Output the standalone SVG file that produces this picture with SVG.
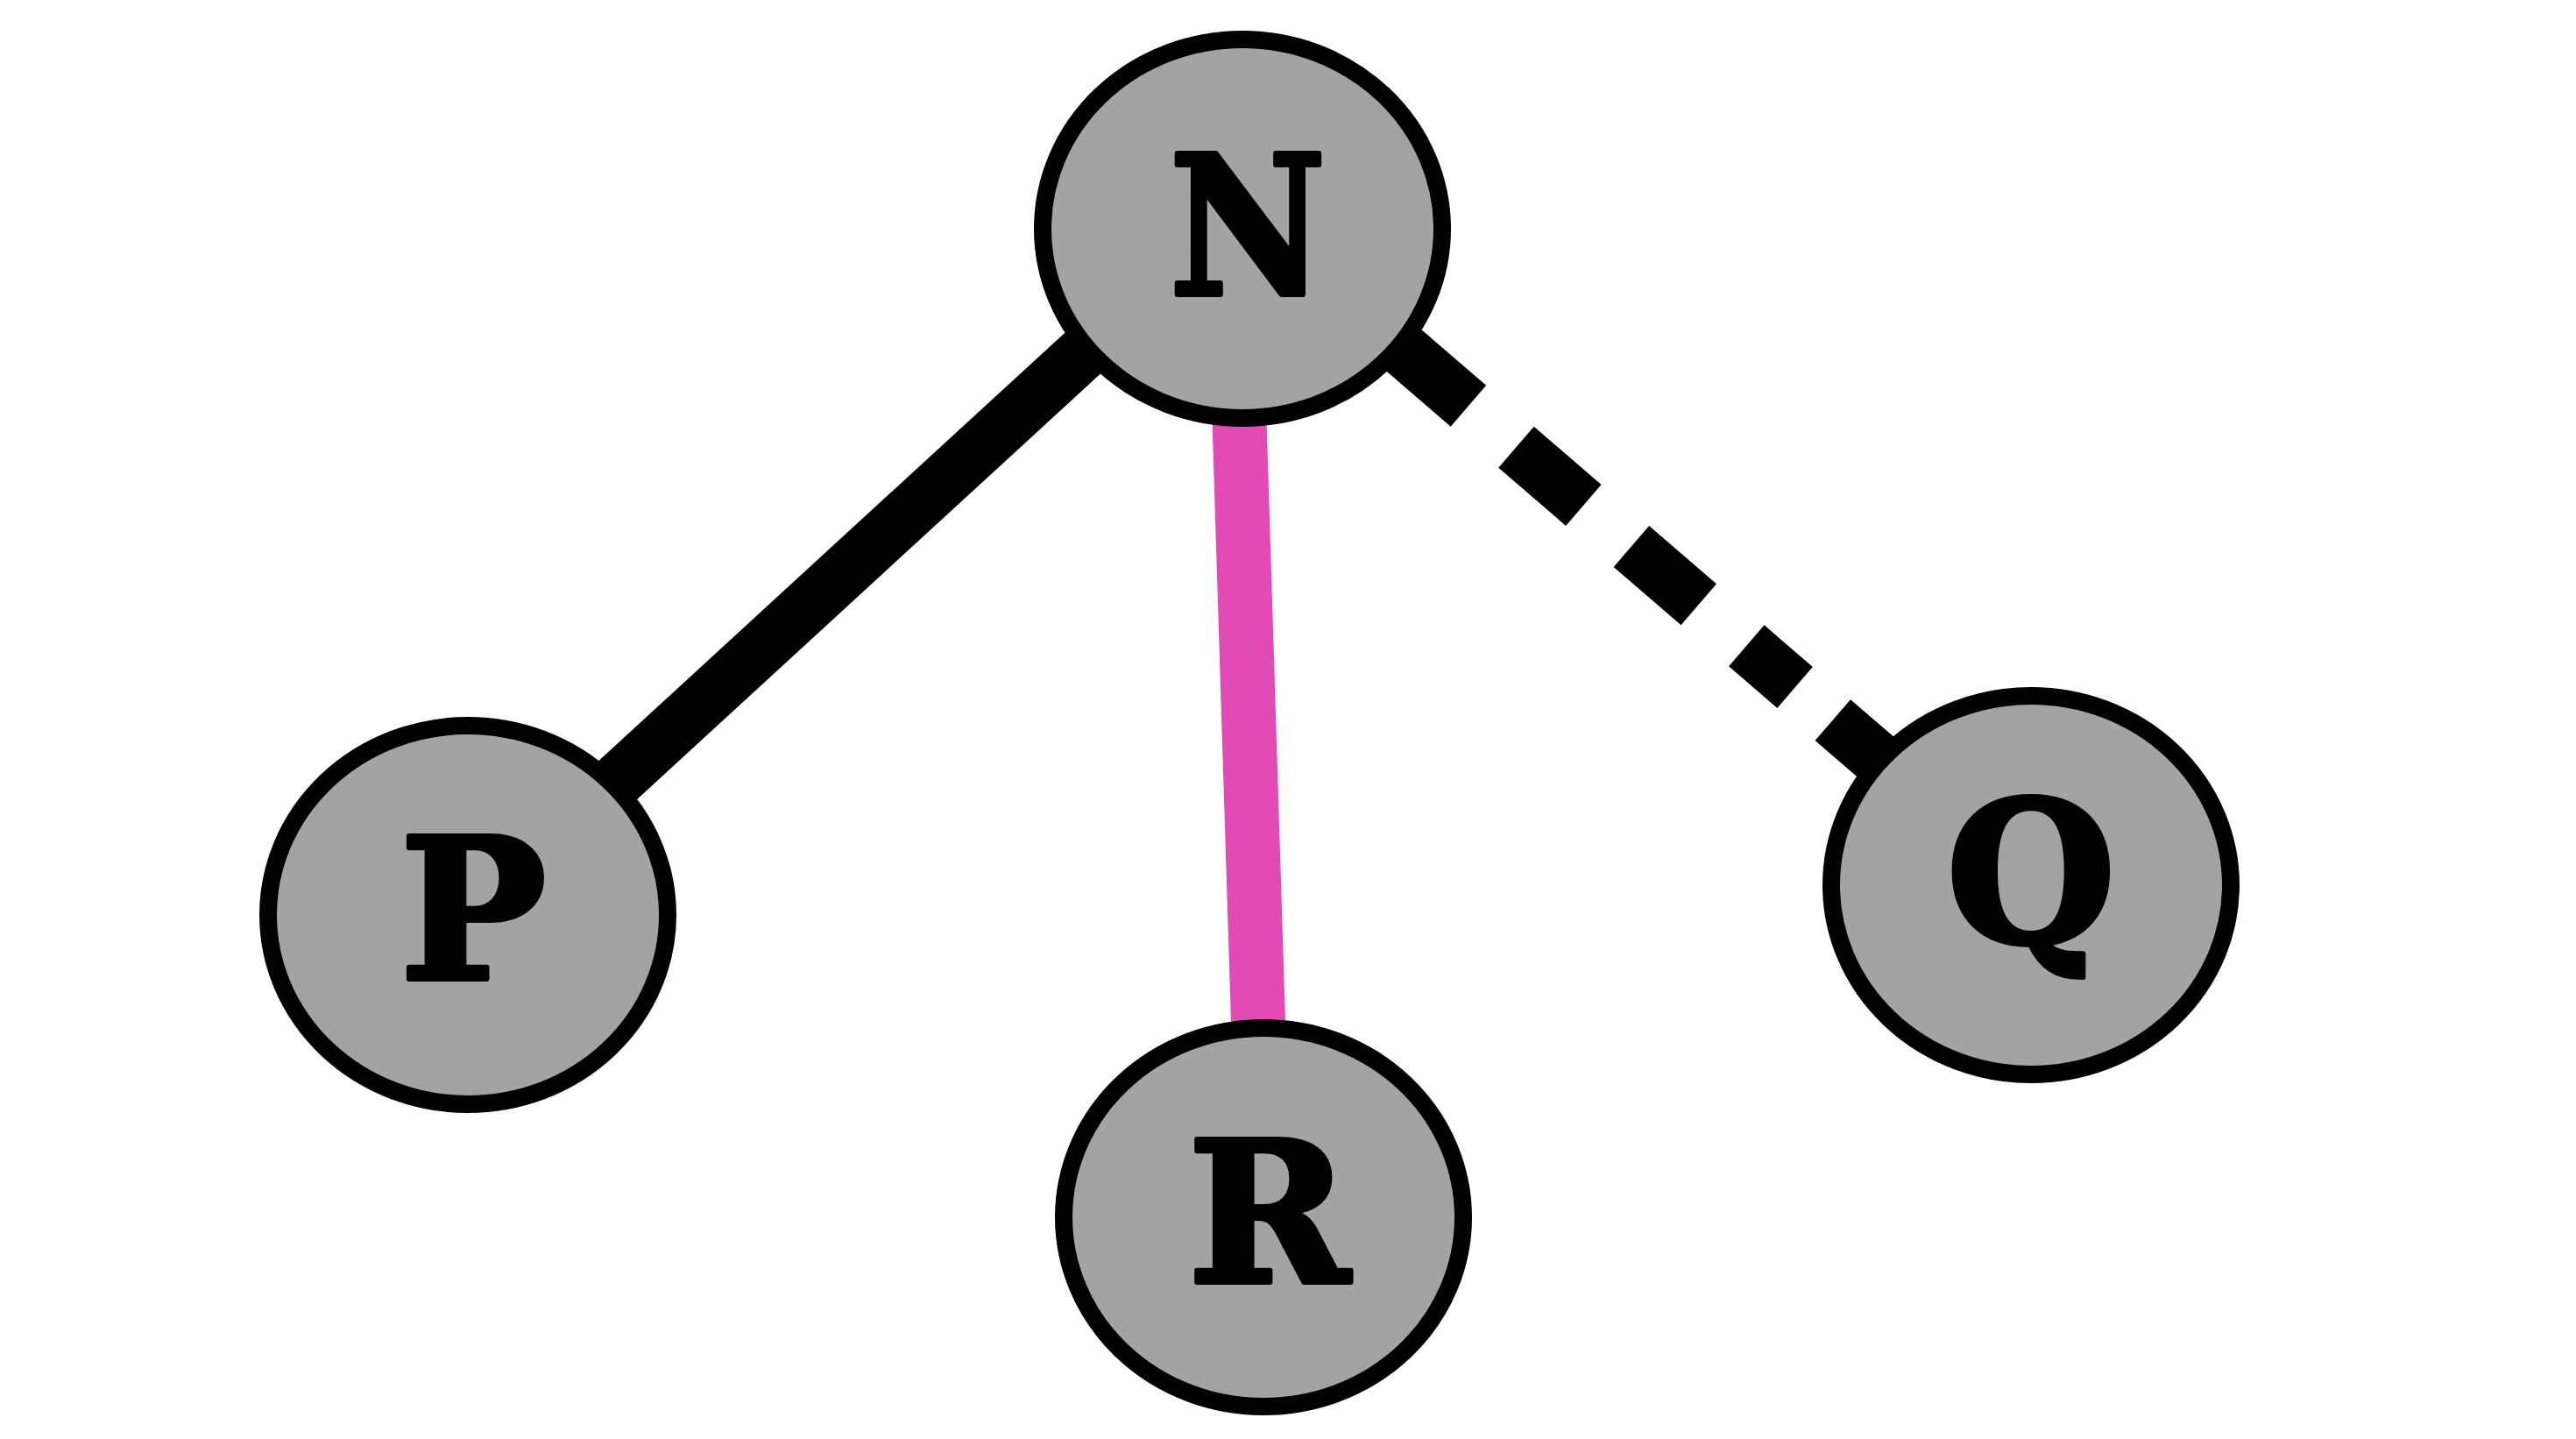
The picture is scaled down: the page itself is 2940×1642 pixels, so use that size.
<svg xmlns="http://www.w3.org/2000/svg" width="2940" height="1642" viewBox="0 0 2940 1642">
<style>
.edge{fill:none;stroke-width:62;stroke-linecap:butt}
.node ellipse{fill:#a3a3a3;stroke:#000;stroke-width:20}
.node text{font-family:"DejaVu Serif",serif;font-weight:bold;font-size:222px;fill:#000;stroke:#000;stroke-width:6;stroke-linejoin:round;text-anchor:middle}
</style>
<rect width="2940" height="1642" fill="#fff"/>
<g id="edges">
<line id="e-N-P" class="edge" x1="585.5" y1="1000" x2="1348" y2="300" stroke="#000"/>
<line id="e-N-R" class="edge" x1="1410.4" y1="350" x2="1440.2" y2="1300" stroke="#e24ab6" stroke-width="63"/>
<path id="e-N-Q" class="edge" d="M1569.1,371.2 L2235.9,945.8" stroke="#000" stroke-dasharray="141 72 101.5 72 101.5 72 73 57 400"/>
</g>
<g id="node-N" class="node"><ellipse cx="1418" cy="261" rx="228" ry="216"/><text x="1424" y="336" transform="translate(1424 0) scale(0.88 1) translate(-1424 0)">N</text></g>
<g id="node-P" class="node"><ellipse cx="534" cy="1044" rx="228" ry="216"/><text x="540" y="1117">P</text></g>
<g id="node-R" class="node"><ellipse cx="1442" cy="1389" rx="228" ry="216"/><text x="1448" y="1463">R</text></g>
<g id="node-Q" class="node"><ellipse cx="2318" cy="1010" rx="228" ry="216"/><text x="2318" y="1075">Q</text></g>
</svg>
